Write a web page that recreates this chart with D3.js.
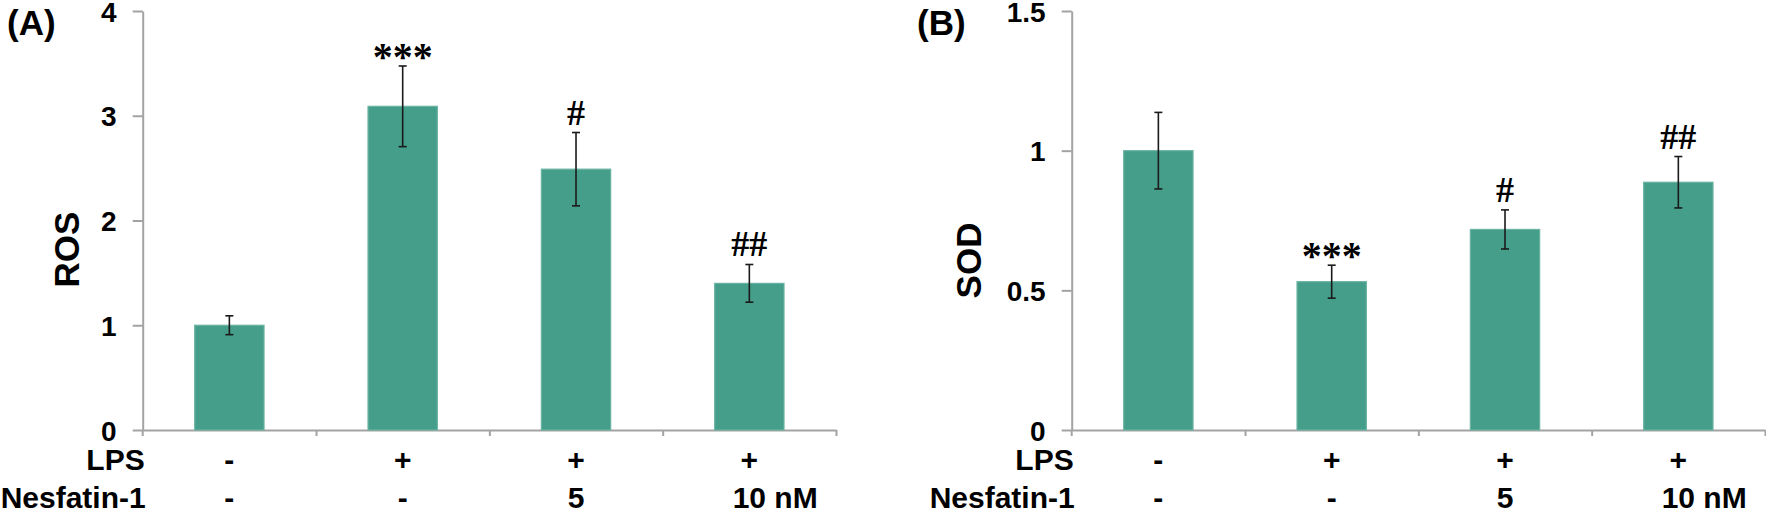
<!DOCTYPE html>
<html>
<head>
<meta charset="utf-8">
<script src="https://cdn.jsdelivr.net/npm/d3@7"></script>
<style>
  html, body { margin: 0; padding: 0; background: #fff; }
  svg { display: block; }
  text { font-family: Arial, "Liberation Sans", sans-serif; font-weight: bold; fill: #000; }
</style>
</head>
<body>
<svg id="chart" width="1766" height="510"></svg>
<script>
// groups along the x axis
const groups = ['ctrl', 'lps', 'lps_nes5', 'lps_nes10']
const lpsRow = ['-', '+', '+', '+']
const nesRow = ['-', '-', '5', '10 nM']

// panel A: ROS
const rosMean = [1.0, 3.09, 2.49, 1.40]
const rosErr = [0.09, 0.385, 0.35, 0.18]
const rosMarks = ['', '***', '#', '##']
const rosTicks = [0, 1, 2, 3, 4]

// panel B: SOD
const sodMean = [1.0, 0.531, 0.718, 0.887]
const sodErr = [0.137, 0.059, 0.07, 0.092]
const sodMarks = ['', '***', '#', '##']
const sodTicks = [0, 0.5, 1, 1.5]

const svg = d3.select('#chart')
const barFill = '#459e8a'
const barEdge = '#6bb3a2'
const axisColor = '#a3a3a3'
const yTop = 11, yBottom = 430, plotW = 693.3

function drawPanel(opts) {
  const { x0, tag, tagX, title, titleX, titleY, mean, err, marks, ticks, yMax } = opts
  const g = svg.append('g')

  const x = d3.scaleBand()
    .domain(groups)
    .range([x0, x0 + plotW])
    .paddingInner(0.6)
    .paddingOuter(0.3)
  const y = d3.scaleLinear().domain([0, yMax]).range([yBottom, yTop])
  const cx = d => x(d) + x.bandwidth() / 2

  // y axis
  const yAxis = g.append('g')
    .attr('transform', `translate(${x0},0)`)
    .call(d3.axisLeft(y).tickValues(ticks).tickSize(10).tickSizeOuter(0).tickPadding(16)
      .tickFormat(d => d3.format('~g')(d)))
  yAxis.selectAll('path, line').attr('stroke', axisColor).attr('stroke-width', 2)
  yAxis.selectAll('text').style('font-size', '28px').attr('fill', '#000')
    .attr('dy', '0.36em')

  // little stub of the y axis below the baseline
  g.append('line')
    .attr('x1', x0).attr('x2', x0)
    .attr('y1', yBottom).attr('y2', yBottom + 6)
    .attr('stroke', axisColor).attr('stroke-width', 2)

  // x axis with ticks between groups
  const edges = d3.scaleLinear().domain([0, groups.length]).range([x0, x0 + plotW])
  const xAxis = g.append('g')
    .attr('transform', `translate(0,${yBottom})`)
    .call(d3.axisBottom(edges).tickValues(d3.range(1, groups.length + 1))
      .tickSize(6).tickSizeOuter(0).tickFormat(''))
  xAxis.selectAll('path, line').attr('stroke', axisColor).attr('stroke-width', 2)

  // bars
  g.selectAll('rect.bar')
    .data(groups)
    .join('rect')
    .attr('class', 'bar')
    .attr('x', d => x(d))
    .attr('width', x.bandwidth())
    .attr('y', (d, i) => y(mean[i]))
    .attr('height', (d, i) => yBottom - y(mean[i]))
    .attr('fill', barFill)
    .attr('stroke', barEdge)
    .attr('stroke-width', 1.2)

  // error bars
  const eb = g.selectAll('g.err')
    .data(groups)
    .join('g')
    .attr('class', 'err')
  eb.append('line')
    .attr('x1', cx).attr('x2', cx)
    .attr('y1', (d, i) => y(mean[i] + err[i]))
    .attr('y2', (d, i) => y(mean[i] - err[i]))
  eb.append('line')
    .attr('x1', d => cx(d) - 4).attr('x2', d => cx(d) + 4)
    .attr('y1', (d, i) => y(mean[i] + err[i]))
    .attr('y2', (d, i) => y(mean[i] + err[i]))
  eb.append('line')
    .attr('x1', d => cx(d) - 4).attr('x2', d => cx(d) + 4)
    .attr('y1', (d, i) => y(mean[i] - err[i]))
    .attr('y2', (d, i) => y(mean[i] - err[i]))
  eb.selectAll('line').attr('stroke', '#1a1a1a').attr('stroke-width', 1.6)

  // significance marks
  g.selectAll('text.mark')
    .data(groups)
    .join('text')
    .attr('class', 'mark')
    .attr('x', cx)
    .attr('y', (d, i) => y(mean[i] + err[i]) + (marks[i].includes('*') ? 4 : -8))
    .attr('text-anchor', 'middle')
    .style('font-family', '"Times New Roman", "Liberation Serif", serif')
    .style('font-size', (d, i) => marks[i].includes('*') ? '40px' : '36px')
    .text((d, i) => marks[i])

  // treatment table under the axis
  g.selectAll('text.lps')
    .data(groups)
    .join('text')
    .attr('class', 'lps')
    .attr('x', cx)
    .attr('y', 470)
    .attr('text-anchor', 'middle')
    .style('font-size', '30px')
    .text((d, i) => lpsRow[i])

  g.selectAll('text.nes')
    .data(groups)
    .join('text')
    .attr('class', 'nes')
    .attr('y', 508)
    .style('font-size', '30px')
    .text((d, i) => nesRow[i])
    .each(function (d, i) {
      // centre the number part under the bar, the unit trails after it
      const num = nesRow[i].split(' ')[0]
      const tmp = g.append('text').style('font-size', '30px').text(num)
      const w = tmp.node().getComputedTextLength()
      tmp.remove()
      d3.select(this).attr('x', cx(d) - w / 2)
    })

  g.append('text')
    .attr('x', x0 + 2).attr('y', 470)
    .attr('text-anchor', 'end')
    .style('font-size', '30px')
    .text('LPS')
  g.append('text')
    .attr('x', x0 + 3).attr('y', 508)
    .attr('text-anchor', 'end')
    .style('font-size', '30px')
    .text('Nesfatin-1')

  // y title
  g.append('text')
    .attr('transform', `translate(${titleX},${titleY}) rotate(-90)`)
    .attr('text-anchor', 'middle')
    .style('font-size', '35px')
    .text(title)

  // panel tag
  g.append('text')
    .attr('x', tagX).attr('y', 35)
    .style('font-size', '35px')
    .text(tag)
}

drawPanel({
  x0: 142.7, tag: '(A)', tagX: 7, title: 'ROS', titleX: 79, titleY: 249.5,
  mean: rosMean, err: rosErr, marks: rosMarks, ticks: rosTicks, yMax: 4
})
drawPanel({
  x0: 1071.7, tag: '(B)', tagX: 917, title: 'SOD', titleX: 981, titleY: 260.5,
  mean: sodMean, err: sodErr, marks: sodMarks, ticks: sodTicks, yMax: 1.5
})
</script>
</body>
</html>
